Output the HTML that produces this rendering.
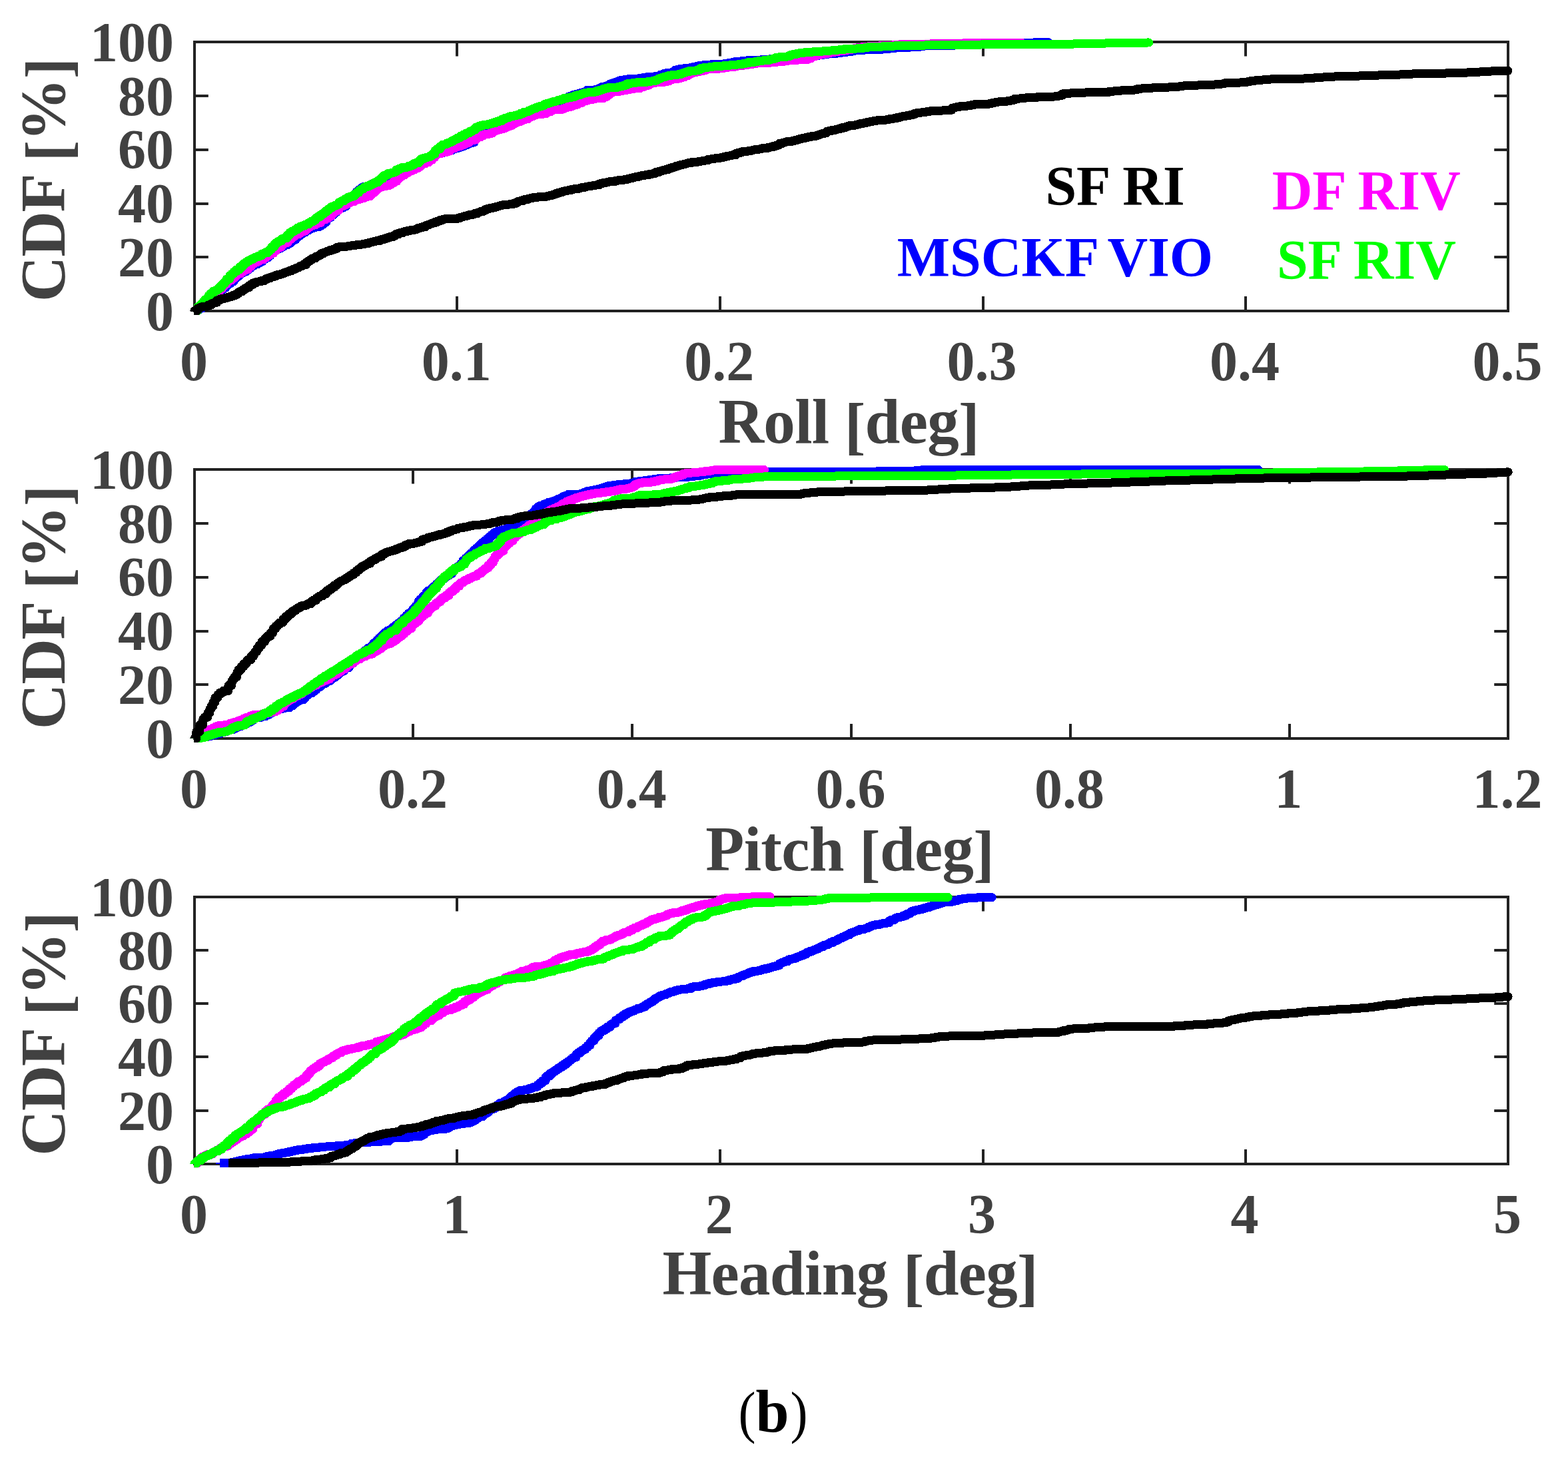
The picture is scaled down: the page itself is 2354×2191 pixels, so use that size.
<!DOCTYPE html>
<html lang="en"><head><meta charset="utf-8"><title>CDF of attitude errors (b)</title>
<style>
html,body{margin:0;padding:0;background:#fff}
body{width:2354px;height:2191px;overflow:hidden}
svg{display:block}
text{font-family:"Liberation Serif","DejaVu Serif",serif;font-weight:bold}
.t{font-size:84px;fill:#414141}
.l{font-size:95px;fill:#414141;letter-spacing:-0.7px}
.yl{letter-spacing:-1.2px}
.g{font-size:84px}
.ax{stroke:#222222;stroke-width:4;fill:none;stroke-linecap:butt}
.c{fill:none;stroke-width:13;stroke-linejoin:round;shape-rendering:crispEdges}
</style></head>
<body>
<svg width="2354" height="2191" viewBox="0 0 2354 2191">
<rect width="2354" height="2191" fill="#ffffff"/>
<g id="panel1">
<path class="ax" d="M686 467v-22.1M686 63v21.5M1081 467v-22.1M1081 63v21.5M1476 467v-22.1M1476 63v21.5M1870 467v-22.1M1870 63v21.5M292 386h20.8M2264 386h-20.8M292 306h20.8M2264 306h-20.8M292 225h20.8M2264 225h-20.8M292 144h20.8M2264 144h-20.8"/>
<rect class="ax" x="292" y="63" width="1972" height="404"/>
<g class="t" text-anchor="middle"><text x="290.9" y="571.1">0</text><text x="685.3" y="571.1">0.1</text><text x="1079.7" y="571.1">0.2</text><text x="1474.1" y="571.1">0.3</text><text x="1868.5" y="571.1">0.4</text><text x="2262.9" y="571.1">0.5</text></g>
<g class="t" text-anchor="end"><text x="261" y="495.8">0</text><text x="261" y="415">20</text><text x="261" y="334.2">40</text><text x="261" y="253.4">60</text><text x="261" y="172.6">80</text><text x="261" y="91.8">100</text></g>
<text class="l" text-anchor="middle" x="1274.2" y="664.9">Roll <tspan dy="6.5">[</tspan><tspan dy="-6.5">deg</tspan><tspan dy="6.5">]</tspan></text>
<text class="l yl" text-anchor="middle" transform="translate(97.2 270.6) rotate(-90)">CDF <tspan dy="6.5">[</tspan><tspan dy="-6.5">%</tspan><tspan dy="6.5">]</tspan></text>
<clipPath id="c1"><path d="M284.8 54H2273V472.9H291.1V467.9H284.8Z"/></clipPath>
<g clip-path="url(#c1)">
<path class="c" stroke="#0000ff" stroke-linecap="round" d="M291.9 466.9h3v-1.6h4v-2.5h5v-3.7h3v-2.7h3v-2.7h3v-2.7h4v-3.6h3v-3.3h3v-2.4h3v-2.4h4v-3.3h2v-1h3v-2.7h4v-3.6h3v-2.6h4v-3.2h5v-5.3h4v-3h4v-2.7h3v-1.8h3v-1.8h4v-2.8h4v-2.4h3v-2.2h2v-1.5h3v-2.1h3v-0.4h3v-1.9h3v-2h4v-2.7h2v-1.4h3v-2.1h4v-2.8h3v-3.7h4v-2.8h3v-2.1h3v-2.1h5v-2.9h5v-2.7h3v-0.1h3v-2.1h4v-3h3v-2.3h5v-3.5h3v-2.9h4v-2.4h3v-1.8h2v-1h3v-2.3h4v-2h3v-1.5h4v-1.7h4h2v-0.4h3v-1.2h3v-2.6h4v-3.2h4v-4.8h3v-2.5h4v-3.6h4v-3.6h4v-3.5h4v-2.7h4v-1.4h3v-2h4v-3.5h2v-2.1h3v-3h5v-5.7h5v-7.1h3v-2.8h4v-3.1h4v-2.1h5v-0.7h3v-0.5h5v-3.4h5v-1.4h4v-1.1h3v-0.9h5v-1.4h5v-1.8h4v-2.3h4v-1.8h4v-1.8h4v-1.9h2v-0.3h4v-1.8h4v-2h4v-2h3v-1.8h3v-1.5h3v-1.5h3v-1.5h3v-1.5h5v-2.6h3v-1.7h4v-2.2h3v-1.7h3v-2.8h4v-2.3h3v-1.6h4v-1.9h2h5v-1h4v-2h3v-1.3h2v-0.6h3h5v-1.5h4v-1.2h3v-0.9h4v-0.8h2v-0.9h3v-1.2h3v-1.3h3v-1.3h3v-1.2h3v-1.3h5v-5.5h4v-2.8h4v-2.8h3v-2.1h4v-0.9h2v-0.8h4v-1.6h3v-1.2h3v-1.2h2v-0.8h3v-1.7h2v-0.8h4v-2.8h4v-2.8h5v-3.4h4v-1.7h3v-1.3h4v-2.3h5v-1.4h2v-0.9h4v-1.5h5v-2.3h3v-0.5h3v-1.4h5v-2.4h3v-1h4v-1.4h3v-1h4v-1.3h3v-1.1h4v-1.3h3v-0.6h3v-1h2v-0.6h4v-1.4h3v-1h3v-1.1h2v-1.1h3v-1.2h2v-1.1h3v-1.7h4v-2.1h3v-1.7h2v-0.8h4v-1.6h2v-0.6h4v-1.1h4v-1.3h4v-0.7h3v-1.1h3v-1.1h2v-1.6h3h4h3v-0.5h3h3v-1.4h3v-1.5h3v-1.5h2v-0.5h4v-0.8h3v-0.8h3v-2.1h3v-0.9h3v-1.1h3v-1.2h3v-1.2h3v-1.1h3v-0.6h3v-0.4h3v-0.6h3v-0.5h5v-0.4h4h4v-0.2h2v-0.2h4v-0.9h2v-0.1h2v-0.2h3v-0.4h4v-0.9h3h3v-0.1h5v-0.8h4v-0.6h4v-1.7h5v-1.6h3v-0.9h3h2h5v-1.5h4v-2.9h4v-1.3h4v-0.6h3v-0.3h3v-0.5h2v-0.4h3h3v-0.4h3v-0.7h2v-0.5h2v-0.6h3v-0.5h5v-1.4h5v-0.4h2v-0.2h4v-0.3h3v-0.2h3v-0.2h4h4v-0.2h3v-0.2h2v-0.1h4v-0.3h3v-0.4h3v-0.4h3v-0.6h3v-0.6h4v-0.8h3v-0.6h5v-0.4h4v-0.4h4v-0.6h4v-0.3h3v-0.1h5v-0.1h5v-0.4h3v-0.1h2v-0.1h3v-0.2h3v-0.1h4v-0.3h5v-0.4h2v-0.3h4v-0.4h3v-0.3h3h4h3v-0.2h2v-0.2h3v-0.2h3v-0.2h5v-0.4h4v-0.4h4v-0.3h4v-0.2h2v-0.2h3v-0.2h3v-0.4h2v-0.1h3v-0.2h3v-0.2h3v-0.3h3v-0.2h3v-0.5h3v-0.3h4v-0.6h4v-0.6h2v-0.2h3v-0.4h3v-0.4h3v-0.4h3h4v-0.4h3v-0.3h3v-0.5h3v-0.2h3v-0.5h3v-0.4h4v-0.6h3v-0.3h3v-0.3h3v-0.9h3v-0.3h2v-0.2h5v-0.5h4v-0.4h2h4v-0.1h2v-0.1h5h4h3h2h5v-0.4h2v-0.2h3v-0.3h4v-0.5h3v-0.2h4v-0.7h3v-0.2h2v-0.1h4v-0.3h5h3v-0.2h5v-0.4h5v-0.3h4v-0.3h2h3v-0.1h3v-0.2h5v-0.4h3v-0.8h2v-0.2h4v-0.2h4h3h3v-0.1h5v-0.1h3v-0.1h3h4v-0.1h3h2h2v-0.1h5v-0.1h5v-0.2h3v-0.2h3v-0.1h5v-0.2h5v-0.3h3v-0.1h3v-0.2h4v-0.1h2v-0.1h5v-0.2h2v-0.1h3v-0.1h3v-0.1h4v-0.2h3v-0.1h2v-0.1h2h3v-0.2h4v-0.1h2v-0.1h4v-0.1h3v-0.1h2h5v-0.2h4v-0.2h5h2v-0.1h3h5v-0.1h4v-0.1h5v-0.1h3h2h3v-0.1h3v-0.2h3v-0.1h4v-0.2h3v-0.1h4v-0.1h4h2h4h3h2.6"/>
<path class="c" stroke="#ff00ff" stroke-linecap="round" d="M291.9 466.9h5v-4.6h3v-2h4v-2.7h4v-3.9h3v-2.9h4v-3.2h5v-4.5h3v-3.5h3v-2.6h4v-3.7h4v-3.9h3v-3h4v-4h3v-1.8h4v-3.1h4v-3.2h3v-2.2h3v-1.4h4v-2.4h3v-1.8h3v-2.1h5v-3.9h4v-3.2h2v-1.6h3v-1.6h4v-1.8h3v-1.5h2v-1h5v-2.9h4v-2.4h3v-1.9h3v-2.3h5v-4h4v-3.2h2v-1.6h5v-3.5h3v-2.1h2v-1.4h5v-3.7h3v-2.2h3v-2.2h2v-1.5h3v-2.1h2v-1h4v-2h3v-1.5h3v-1.5h4v-4h4v-2h3v-1.5h3v-1.4h5v-2.3h3v-1.2h5v-3h2v-1.6h2h3v-2.2h4v-3.2h5v-3.9h3v-2.4h3v-2.4h5v-4.8h3v-1.5h4v-2h4v-2h4v-2h4v-0.8h4v-1.6h3v-1.2h4v-1.6h3h2v-0.6h2v-0.8h2v-0.8h3v-1.2h5v-3.1h3v-2.8h4v-4.3h4v-3.1h5v-1h3v-0.8h4v-0.7h5v-2.2h4v-1.8h3v-2.7h5v-3.8h3v-2.4h3v-1.8h2v-1.6h4v-2.2h3v-1.7h3v-1.7h4v-2.2h5v-2.5h5v-2.5h4v-2.7h3v-1.5h4v-2h5v-3.4h5v-3.9h4v-3.6h3v-1.7h3v-0.9h5v-1.6h3h3v-0.7h3v-1.1h3v-3h3v-1.2h4v-1.6h4v-1.6h5v-2h5v-1h2v-1.1h3v-1.7h3v-1.6h2v-0.7h2v-0.7h2v-0.7h4v-3.6h2v-0.7h5v-2h4v-1.6h4h3v-0.9h2v-0.8h4v-1.6h2v-1.8h3v-1.2h3v-1.2h3v-0.2h3v-1.2h5v-1.9h3v-1h3v-1.1h4v-2.5h3v-1.2h3v-1.3h3v-0.9h2v-0.8h3v-1.2h3v-1.2h3v-1.2h5v-2.7h4v-1.6h4v-1.6h4v-1.2h3v-0.1h3h3v-0.4h2v-0.3h4v-1.8h3v-1.4h4v-1.8h3v-0.9h3h3h3v-0.1h4v-0.9h3v-1.2h2v-0.8h3v-1h2v-0.7h5v-1.6h3v-0.8h4v-1.3h3v-1.6h5v-1.9h3v-1.2h4v-1.5h4v-0.8h5v-0.8h2v-0.4h3v-0.5h3h4v-0.1h5v-1.7h4v-2.4h3v-1.8h3v-2.8h4v-1.1h4v-0.3h2v-0.2h4v-0.6h4v-0.9h4v-0.6h3v-0.5h3v-0.6h3v-0.7h4v-0.9h5h5v-1.4h3v-1.1h4v-1.3h4v-1h3v-2.4h4v-0.8h3v-0.3h2v-0.3h2v-0.2h2h4h3v-0.4h2v-0.6h4v-1.2h4v-1.2h2v-1h3v-0.4h2v-0.3h4v-0.6h3v-0.9h4v-1.7h5v-2h5v-1.6h3v-1.6h3v-0.9h2v-0.6h4v-1.2h3h2v-0.5h2v-0.5h3v-0.7h3v-0.8h3v-1.2h5v-0.2h3v-0.3h3h5v-0.3h3v-0.4h5v-0.7h4v-0.6h4v-0.5h4v-0.5h2v-0.3h5v-0.7h3v-0.5h3v-0.4h3v-0.3h4v-0.5h3v-0.4h3v-0.4h3v-0.5h2v-0.3h3v-0.5h4v-0.6h3v-0.1h4v-0.2h4v-0.1h2v-0.1h3v-0.2h5v-0.5h3v-0.3h2v-0.2h5v-0.4h4v-0.4h3v-0.3h5v-0.5h3v-0.6h3v-0.2h2v-0.2h5v-0.2h2v-0.1h2v-0.2h3v-0.4h3v-0.4h4h3h5v-1.8h5v-2.7h3v-0.6h4v-1.6h4v-0.7h5v-0.8h4v-0.6h4v-1.1h3v-0.4h3v-0.4h2v-0.3h3v-0.5h3v-0.5h3v-0.6h3v-0.3h4v-0.8h3v-0.6h4v-0.7h2v-0.3h5v-0.8h3v-1.2h3v-0.4h3v-0.4h3v-0.4h3v-0.4h2v-0.2h3v-0.3h3v-0.2h3v-0.2h3v-0.2h4h4v-0.1h3v-0.5h4v-0.2h2v-0.1h3v-0.2h3v-0.3h4h4v-0.2h4v-0.3h2v-0.2h3v-0.3h3v-0.6h2h4h4h2h3h4v-0.1h4h4v-0.1h3v-0.1h2h3v-0.1h3h3h3v-0.1h3h3v-0.1h4h3v-0.1h5v-0.1h3v-0.1h5v-0.1h3v-0.1h3v-0.1h4h3h4v-0.1h2v-0.1h4v-0.1h4v-0.2h4v-0.1h2h2v-0.1h4h4h4h2h5h3h3h3h4h3h3h3h4h5h3h3h5h5h3h3h3h2.6"/>
<path class="c" stroke="#00ff00" stroke-linecap="round" d="M291.9 466.9h5v-6h4v-3.4h4v-4.5h3v-3.3h5v-5.5h3v-3.3h4v-3.7h2h3v-2.2h3v-2.7h4v-3.9h3v-3h3v-3h2v-3.2h5v-5.5h3v-2.5h3v-3.2h4v-3.2h5v-4h4v-3.3h3v-2.3h3v-2.2h2v-1.4h3v-1.6h4v-1.9h3v-1.3h2v-1h4v-1.7h5v-3h4v-1.5h5v-2.5h3v-2.7h3v-3.8h4v-4.3h3v-2.1h3v-2.1h5v-3.5h3v-0.9h5v-4.7h4v-3.8h4v-2.4h4v-2h4v-3h4v-2h3v-0.5h3v-1.5h2v-1h5v-2.6h3v-1.7h4v-2.2h3v-2.8h3v-2.1h4v-2.8h3v-2h3v-2.2h3v-2.2h3v-2.3h2v-1.5h3v-2.3h3v-0.6h2v-1h3v-1.5h3v-3.1h2v-1h2v-1.2h4v-2.4h2v-1.1h4v-2.4h5v-1.3h4v-2.9h3v-2.3h4v-3.1h2v-1.6h2v-0.9h3v-2.3h2v-0.8h3v-1.2h4v-1.8h3v-0.9h2v-1.2h3v-1.8h5v-2.8h3v-2.6h4v-3.4h2v-1.7h5v-2.5h4v-0.8h2v-0.6h4v-1.3h3v-3.2h5v-1.9h4v-1.6h4v-0.3h5v-1.5h4v-1.3h4v-2.6h3v-0.9h5v-3.3h3v-2.8h4v-1.3h4v-1.2h4v-0.6h2v-1.6h3v-2.4h4v-5.4h3v-2.4h5v-4h3v-2.4h3v-0.5h3v-1.4h3v-1.3h4v-1.8h3v-1.5h2v-0.9h2v-1.3h3v-1.8h4v-2.5h5v-2.4h4v-2.1h5v-2.3h4v-1.9h2v-1h3v-3.2h4v-1.8h4v-1.1h4v-1.1h3h3v-0.7h3v-0.9h4v-1.2h5v-1.8h5v-1.4h5v-2.5h4v-1.4h3v-0.9h3v-1.2h3v-0.9h2v-0.5h4v-0.8h4v-0.8h4v-1.9h5v-2.1h4v-0.6h3v-1.3h3v-1.3h2v-1h3v-1.3h4v-1.7h3v-1h3v-1.1h5v-1.7h2v-1.1h2v-0.6h3v-0.9h3v-1h3v-0.9h4v-0.9h3v-1h2v-0.7h5v-1.5h4v-1.3h5v-0.9h5v-1h2v-0.4h5v-2h4v-1h5v-1.4h3v-0.8h2v-0.7h4v-0.4h5v-0.2h5v-0.8h4v-1.4h4v-1.4h5v-1.4h2v-0.5h3v-0.7h3v-0.8h2h5h3v-0.1h3v-0.8h3v-0.8h3v-0.8h4v-1.2h5v-2.1h3v-0.6h4v-0.5h5v-0.6h3v-0.5h2v-0.1h4v-0.1h5v-0.3h5v-0.5h3v-0.4h3v-0.4h4v-0.6h3v-1.4h3v-1.4h3v-1.4h3v-1h3v-1.1h4v-0.9h3v-0.6h4v-0.9h5v-0.3h3v-0.3h3v-0.6h4v-1.2h3v-1.2h4v-1.1h5v-1.5h3h4v-0.3h4v-1h5v-2.4h4v-0.8h4v-0.7h3v-0.1h3v-0.4h3v-0.5h3v-0.4h4v-0.1h3v-0.3h3v-0.2h2v-0.2h3v-0.3h4v-0.3h5v-0.5h4v-0.4h4v-0.2h4v-0.4h3v-0.3h4v-0.4h2v-0.8h4v-0.7h4v-1.2h3h3v-0.2h4v-1.1h5v-0.8h3v-0.4h5v-0.5h3h5v-1h3v-0.7h3v-0.8h4v-1.8h5v-0.6h3v-0.3h3h3v-0.2h4v-0.7h3v-1.7h3v-0.8h2v-0.5h5v-1.2h4v-0.5h3v-0.4h5v-0.7h5v-0.1h3v-0.2h4v-0.4h3v-0.1h3v-0.3h4v-0.3h5v-0.4h3v-0.3h4v-0.3h3v-0.2h3v-0.2h4v-0.3h4v-0.4h3v-0.2h3v-0.3h3v-0.3h3v-0.9h3v-0.2h3h2h5v-0.1h2h3v-0.2h3v-0.3h4v-0.5h5v-0.5h4v-0.7h3v-0.1h3v-0.1h2h2v-0.1h2v-0.1h3v-0.2h2v-0.1h2v-0.2h4v-0.3h3v-0.3h2v-0.1h4v-0.1h3v-0.1h3v-0.1h3v-0.1h4v-0.3h4v-0.1h4v-0.1h3v-0.1h3v-0.1h3h3h3h2h3v-0.1h3h2v-0.1h3h3h3v-0.1h2h3v-0.1h3v-0.1h4v-0.1h5h5v-0.2h4h3v-0.1h3h3h4h3h2h3v-0.1h3h3h2h3h4h3h5v-0.1h4v-0.1h4h3h3v-0.1h3h3h3v-0.1h4v-0.1h3h4h5v-0.1h5v-0.1h5v-0.1h3h4h3h5h3h3h4h4h3h4h3h4h5h3h4h3h5h3h4h5h3h3v-0.1h3h4h3h3v-0.1h3h2v-0.1h5v-0.2h3v-0.1h3v-0.1h3v-0.1h2v-0.1h5v-0.2h3h3h4v-0.1h2h3h3h3v-0.1h3h4v-0.1h4v-0.1h4v-0.1h2h5v-0.1h2v-0.1h4v-0.1h4h3h3v-0.1h4h3v-0.1h5v-0.1h3v-0.1h3h5v-0.1h4h5h4v-0.1h1.8"/>
<path class="c" stroke="#000000" stroke-linecap="round" d="M291.9 466.9h4v-3.6h3v-1.3h3v-1.2h3h3v-0.6h4v-1.9h5v-2.3h2v-0.7h3v-1h4v-3.5h4v-1.4h3v-1h4v-0.5h3v-1h3v-1.1h2v-0.8h5v-1.8h5v-2.1h3v-2.4h2v-1.1h4v-2.3h3v-1.8h2v-1.5h5v-3.2h2v-1.4h4v-2.6h5v-1.7h4v-0.4h3v-1.1h5v-1.5h3v-1.9h2v-0.6h4v-1.3h2v-0.7h3v-1h3v-1.1h3v-1h4v-0.8h2v-0.8h3v-1.2h2v-0.8h2v-0.8h4v-1.5h4v-1.5h2v-0.7h3v-1.2h3v-1.4h3v-1.5h3v-1.4h3v-1.5h5v-3.5h3v-2.1h3v-2.1h3v-1.8h5v-2.4h3v-1.5h3v-1.4h2v-1.9h4v-1.5h3v-1.1h2v-0.7h2v-0.7h3v-1.2h4v-1.5h5v-2.4h3v-0.8h3h3h5v-0.7h3v-0.5h2v-0.4h3v-0.3h4v-0.6h4v-0.6h3v-0.1h3v-0.3h2v-0.4h4v-0.9h3v-0.6h4v-1.2h2v-0.4h3v-0.8h3v-0.7h3v-0.6h5v-1.3h3v-1h4v-1h3v-0.9h3v-1h3v-1h5v-1.7h3v-2.1h5v-1.8h2v-0.3h4v-1.3h3v-0.8h4v-1.1h4v-0.7h3v-0.6h5v-0.9h3v-1.5h3v-0.8h4v-1.3h5v-1.9h2v-0.7h3v-1.1h2v-0.8h3v-1.2h4v-1.5h4v-1.5h4v-1.4h4v-1.4h4v-0.6h3h3h3h4h2v-0.3h4v-0.8h3v-1.3h4v-1h3v-0.8h4v-1.1h3v-0.8h3v-0.3h4v-1.4h5v-1.7h3v-0.9h2v-0.7h4v-1.2h3v-2.2h3v-0.7h4v-1h5v-1.1h4v-1.1h4v-1h3v-0.7h2v-0.5h4v-0.8h4h3v-0.4h5v-1h2v-0.5h4v-2.2h2v-0.5h2v-0.6h5v-1.5h3v-0.9h5v-1.5h3v-0.4h3v-0.8h2v-0.3h4v-0.5h4v-0.6h4h2h5v-0.5h3v-0.8h3v-0.9h4v-1.2h4v-1.4h3v-0.9h3v-0.8h2v-0.4h3v-1.5h4v-0.7h4v-0.6h4v-1h3v-0.6h3v-0.8h4v-0.2h4v-0.9h2v-0.5h3v-0.7h4v-0.9h3v-0.2h4v-0.8h3v-0.5h3v-0.5h3v-0.5h4v-1.8h4v-0.9h4v-0.9h4v-0.8h3v-0.6h4h4v-0.9h2v-0.4h3v-0.6h3v-0.7h3h4v-0.8h5v-1.1h4v-0.8h4v-1.3h4v-0.8h5v-1h3v-0.5h2v-0.4h4v-0.7h5v-0.9h4v-0.7h3v-0.6h3v-1.7h5v-1.4h4v-1.1h2v-0.6h3v-0.8h5v-1.5h4v-1.4h3v-0.9h4v-1.3h3v-0.9h3v-1h3v-0.7h4v-1.1h4v-0.9h3v-0.7h5v-1.1h5h4v-0.6h2v-0.4h3v-0.5h4v-0.7h3v-0.5h3v-1.2h2v-0.3h3v-0.4h2v-0.3h3v-0.5h4v-0.4h3v-0.5h3v-0.7h4v-1.1h4v-1h4v-0.3h3v-0.7h2v-0.5h5v-2.5h3v-0.9h5v-1.5h3h4v-0.6h3v-0.6h4v-0.6h3v-1h3v-0.3h4v-0.4h3v-0.5h3v-0.9h4h5v-1.3h3v-0.4h2v-0.6h4v-1.1h4v-1.1h3v-0.8h2v-2.1h5v-1.4h4v-1h3v-0.7h3h4v-0.8h3v-0.7h4v-0.9h3v-1.2h4v-0.9h5v-1.1h2v-0.4h3v-0.7h4v-0.9h3h2v-0.6h4v-1.2h4v-1.1h2v-0.6h2v-0.6h3v-0.9h4v-2.4h3v-0.7h4v-1h3v-0.4h4v-1h2v-0.5h4v-1.1h4v-1.2h5v-1.3h3v-0.9h3v-0.9h4v-0.3h5v-1h4v-0.8h3v-0.9h2v-0.3h4v-0.8h4v-1.3h5v-0.8h4v-0.6h2v-0.3h4v-0.6h2v-0.3h4h3v-0.1h4v-0.5h4v-0.9h5v-0.6h3v-0.7h4v-0.9h4v-0.9h3v-0.7h3v-0.8h2h3v-0.7h4v-0.8h4v-0.7h4v-1.9h2v-0.3h4v-0.7h2v-0.2h3v-0.4h4v-0.5h4v-0.7h4v-0.6h3v-0.3h4v-0.2h4h4v-0.2h4v-0.2h4h5v-0.6h5v-3h4v-1h3v-0.7h2v-0.4h4v-0.8h2h2h4v-0.2h2v-0.4h2v-0.4h4v-0.8h4v-0.7h4v-0.3h5v-0.1h3v-0.1h4v-0.1h3v-0.2h5v-0.9h4v-0.8h3v-0.5h3v-0.6h3v-0.5h5v-0.8h4h2h3v-0.5h4v-0.7h3v-0.6h3v-1.7h5v-0.4h3v-0.3h5v-0.5h4v-0.4h3h3h2h3v-0.3h5v-0.5h2v-0.7h3v-0.2h2h4h5v-0.1h4h3h4v-0.2h3v-0.4h3v-0.6h3v-0.6h3v-2.5h3v-0.5h2v-0.1h4v-0.2h4v-0.3h3v-0.2h4v-0.4h2h3h5h5v-0.2h3v-0.2h4v-0.2h2v-0.1h4h3h3h4h2h4h3h3v-0.9h4v-0.4h4v-0.4h3v-0.2h3v-0.3h4v-0.3h4h4v-0.1h4v-0.3h3v-0.3h5v-0.4h4v-1.1h3v-0.4h4v-0.4h4v-0.4h4v-0.2h3v-0.1h5v-0.3h4v-0.3h3v-0.2h2h4v-0.2h3v-0.1h2h2h5v-0.3h3v-0.1h3v-0.1h4v-0.3h5v-0.5h3v-0.6h4v-0.4h5v-0.5h5v-0.1h4v-0.1h3v-0.1h5v-0.2h3v-0.2h5v-0.2h4h3v-0.1h3v-0.1h3v-0.2h4v-0.1h2v-0.1h3v-0.3h3v-0.4h3v-0.3h3v-1h5v-0.3h5v-0.2h4v-0.1h4v-0.2h4h2v-0.1h3v-0.3h4v-0.4h4v-0.5h3v-0.8h4v-0.5h4v-0.5h3v-0.4h4v-0.5h3h2v-0.1h3v-0.4h4v-0.4h5v-0.2h3v-0.4h4v-0.2h2h3v-0.1h3h4h4h4h3h2h4h4v-0.1h3h3v-0.1h4v-0.2h3h2v-0.2h4v-0.3h3v-0.3h4v-0.4h2h3v-0.3h3v-0.2h5v-0.3h3v-0.1h4v-0.2h2v-0.4h4v-0.1h4v-0.2h4v-0.1h3v-0.1h3v-0.1h2v-0.1h2h3h4v-0.1h3v-0.1h3v-0.1h4h3v-0.1h3v-0.1h3v-0.4h4v-0.1h4v-0.1h4h4v-0.1h4v-0.1h4v-0.1h2v-0.1h2h3v-0.1h3v-0.1h3v-0.1h3v-0.1h4v-0.1h3v-0.1h3v-0.1h5v-0.2h3v-0.1h4v-0.6h3v-0.1h3v-0.1h3v-0.1h2h4v-0.1h3v-0.1h4v-0.1h5v-0.1h4h3v-0.1h4v-0.1h5v-0.1h3h2h5h3v-0.2h3v-0.1h2h4v-0.1h3v-0.1h5v-0.2h3v-0.1h4v-0.1h4v-0.1h5v-0.2h3v-0.1h5v-0.2h4v-0.1h5v-0.2h3v-0.1h2h2v-0.4h3v-0.2h2v-0.1h2v-0.2h4v-0.3h2v-0.1h3h4v-0.3h4v-0.1h3h3v-0.1h3h3v-0.1h4h2v-0.1h3"/>
</g>
<g class="g"><text x="1569.4" y="308.4" fill="#000000">SF RI</text><text x="1909.7" y="314.7" fill="#ff00ff" style="word-spacing:-1px">DF RIV</text><text x="1346.8" y="414.7" fill="#0000ff" style="word-spacing:-4px">MSCKF VIO</text><text x="1916.9" y="418.9" fill="#00ff00" style="word-spacing:-1px">SF RIV</text></g>
</g>
<g id="panel2">
<path class="ax" d="M620 1109v-22.1M620 705v21.5M949 1109v-22.1M949 705v21.5M1278 1109v-22.1M1278 705v21.5M1607 1109v-22.1M1607 705v21.5M1936 1109v-22.1M1936 705v21.5M292 1028h20.8M2264 1028h-20.8M292 948h20.8M2264 948h-20.8M292 867h20.8M2264 867h-20.8M292 786h20.8M2264 786h-20.8"/>
<rect class="ax" x="292" y="705" width="1972" height="404"/>
<g class="t" text-anchor="middle"><text x="290.9" y="1213.1">0</text><text x="619.6" y="1213.1">0.2</text><text x="948.2" y="1213.1">0.4</text><text x="1276.9" y="1213.1">0.6</text><text x="1605.6" y="1213.1">0.8</text><text x="1934.2" y="1213.1">1</text><text x="2262.9" y="1213.1">1.2</text></g>
<g class="t" text-anchor="end"><text x="261" y="1137.8">0</text><text x="261" y="1057">20</text><text x="261" y="976.2">40</text><text x="261" y="895.4">60</text><text x="261" y="814.6">80</text><text x="261" y="733.8">100</text></g>
<text class="l" text-anchor="middle" x="1275.8" y="1306.5">Pitch <tspan dy="6.5">[</tspan><tspan dy="-6.5">deg</tspan><tspan dy="6.5">]</tspan></text>
<text class="l yl" text-anchor="middle" transform="translate(97.2 912.6) rotate(-90)">CDF <tspan dy="6.5">[</tspan><tspan dy="-6.5">%</tspan><tspan dy="6.5">]</tspan></text>
<clipPath id="c2"><path d="M284.8 696H2273V1114.9H291.1V1108.7H284.8Z"/></clipPath>
<g clip-path="url(#c2)">
<path class="c" stroke="#0000ff" stroke-linecap="round" d="M291.9 1109h4v-1.4h2v-0.5h3v-0.5h3h4h3v-0.5h3v-0.7h3v-1.3h3v-0.8h5v-1.3h3v-0.8h4v-1.2h4v-1.2h4v-1.4h3v-0.9h3v-0.9h4v-1.4h4v-1.7h3v-1h2v-0.9h3v-1.2h3v-1.2h3v-1.5h3v-1.4h3v-1.6h3v-1.6h3v-3.4h4v-1.2h3h5v-1h2v-0.7h5v-1.7h4v-2.7h4v-1.7h3v-1.3h4v-1.8h3v-1.4h2v-0.6h4v-1h4v-1h3h5v-3h5v-3h3v-1.9h3v-2.1h3v-0.5h2v-1.4h5v-3.4h3v-3.7h4v-2.5h3v-0.5h3v-2.2h3v-2.4h3v-2.4h2v-1.6h3v-2.4h3v-1.8h2v-1.3h4v-2.4h3v-1.7h4v-2.8h3v-2.1h4v-3h4v-2.8h3v-2.2h3v-2.1h4v-2.9h2v-1.7h5v-4.3h3v-2.5h3v-2.6h3v-2.6h4v-4.4h3v-2.6h5v-4.3h3v-2.6h4v-3.4h3v-1.3h4v-3.7h2v-2.9h5v-4.6h3v-2.8h4v-3.7h3v-2.8h2v-1.8h3v-2.4h3v-1.2h4v-3h3v-2.3h2v-1.5h3v-2.2h3v-2.2h3v-2.3h4v-4.7h4v-4.1h3v-3h3v-1.5h3v-3.4h2v-2.4h3v-3.6h4v-6.9h3v-3.4h4v-4.4h5v-5.5h3v-3.1h4v-2.5h4v-3.6h4v-3.6h4v-3.6h3v-2.7h2v-1.4h3v-2.7h3v-2.3h4v-3h5v-3.7h2v-1.7h2v-1.8h2v-1.8h2v-1.8h5v-4.6h3v-4.2h4v-3.6h3v-2.7h2v-1.8h3v-2.9h4v-4.1h2v-1.5h2v-2h3v-2.9h3v-2.9h3v-2.5h3v-2.5h4v-3.4h4v-3.4h3v-2.5h4v-3.4h5v-2.2h3v-0.3h2v-0.8h3v-1.2h4v-0.8h3v-1.4h3v-0.8h3v-0.8h4v-2.6h3v-2h4v-2.6h3v-1.3h4v-3.3h3v-2.4h3v-1.6h5v-4h4v-3.2h3v-4.4h4v-3.2h3v-1.6h5v-1.7h3v-1.3h4v-1.8h5v-0.9h4v-1.6h3v-1.2h3v-1.2h4v-1.6h3v-2.3h4v-1.6h4v-1.7h3v-0.3h5h3h2h4h3v-1.2h3v-1.2h5v-1.9h3v-0.5h4v-0.8h5v-1.2h5v-0.9h4v-1.3h4v-1.2h3v-0.9h4v-1.2h4v-0.6h4v-0.7h4v-0.4h5v-0.4h5v-0.6h4v-0.5h2v-0.2h5v-0.5h4v-0.6h3v-1.5h3v-0.5h3v-0.5h3v-0.3h3v-0.4h5v-0.7h3v-0.4h3v-0.4h3v-0.5h4v-0.5h4v-0.6h3v-0.4h3h3h2v-0.2h4v-0.2h4v-0.3h3v-0.3h3v-0.2h4v-0.3h2v-0.1h3h4v-0.3h3v-0.2h3v-0.3h4v-0.3h3v-0.3h3v-0.3h2v-0.2h4v-0.3h3v-1.2h5v-0.7h3v-0.4h3v-0.4h4v-0.8h4h4v-0.3h4v-1.3h3v-1.2h3h3h3h5h3h4h4h2h3h2h5h5h3h3h3h4h4h4h3h4h5h4h4h3h3h3h3h2h2h3h4h3h4h3h4h3h4h3h3h5h2h3h2h4h4h3h5h4h3h4h3h3h3h4h4h3h2h3h3h4h4h4h4h3h4h4h2h2h5v-0.5h4v-0.2h3h3h4h2h2h4h3h3h3h4h4h4h4h2h4v-0.3h3v-0.4h5v-0.4h3v-0.4h2v-0.2h3v-0.3h3h3v-0.1h3v-0.1h3h3h4h3h3h3h3h2h4h3h2h4h4h3h5h4h4h3h5h3h5h3h3h5h3h3h3h3h5h3h3h3h3h3h5h2h3h3h5h4h4h3h4h3h3h4h4h3h3h4h2h2h3h5h3h4h4h3h3h3h5h4h4h3h4h4h3h4h3h2h2h3h3h4h2h3h3h3h3h4h3h3h3h3h4h2h3h3h5h3h4h3h5h3h3h5h4h3h3h2h3h3h3h4h3h4h3h2h4h3h2h4h4h3h3h4h5h4h4h3h3h4h2h3h2h3h5h4h5h5h3h3h5h3h3h3h3h5h4h2h2h4h3h3h2h4h1.2"/>
<path class="c" stroke="#ff00ff" stroke-linecap="round" d="M291.9 1109h3v-2h5v-2.9h4v-2.4h4v-2.1h4v-3h4v-1.7h4v-2h4v-2h5v-1.5h2v-0.2h2v-0.2h4v-0.3h2v-0.1h3v-0.2h3v-2h4v-1.1h3v-0.8h5v-1.9h2v-0.5h3v-1.3h4v-1.9h4v-1.6h5v-1.8h2v-0.8h2v-0.8h5v-0.3h5v-0.1h4v-1.1h3v-0.7h5v-1.1h4v-1.1h3h2v-0.8h4v-2h4v-2.5h3v-3.2h5v-4.7h3v-2.8h4v-2.4h4v-2.3h4v-2.2h2v-0.9h2v-1.1h3v-1.6h4v-2.2h3v-2.5h2v-1.3h4v-2.6h3v-1.9h4v-2.4h2v-0.8h5v-2.9h4v-1.6h4v-1.3h3v-1.5h4v-2h5v-3h3v-2.1h2v-1.4h2v-0.3h3v-2.1h3v-2.1h3v-2.1h3v-2.1h4v-2.7h3v-3.5h3v-1.6h5v-2.7h3v-2h3v-1.6h2v-1.1h4v-2.2h3v-1.6h5v-2.7h3h3v-0.8h4v-2.2h3v-1.9h4v-2.1h3v-1.6h3v-2.6h3v-1.6h2v-1.1h2v-1.1h3v-1.6h5v-2.2h3v-1.6h3v-2.1h3v-2.5h3v-2.6h4v-3.4h4v-3.1h3v-2.2h3v-3.2h5v-4.1h2v-2h2v-1.6h3v-3h4v-4h3v-2.9h3v-2.7h3v-2.9h5v-4.5h3v-3.3h3v-2.4h5v-4h3v-2.2h4v-3.6h3v-2.8h5v-3.1h5v-4.3h3v-2.5h4v-3.3h4v-4.1h5v-3.9h2v-1.6h4v-2.3h3v-1.6h4v-2.2h4v-1.2h2v-1.1h2v-1.1h5v-2.8h3v-1.9h4v-2.8h3v-2.5h3v-2.1h4v-4.3h4v-4.5h4v-4.6h2v-3.9h2v-2.1h3v-3.2h3v-3.1h5v-5.4h2v-2.4h3v-3.6h4v-3.6h5v-5.2h4v-3.5h4v-3.1h4v-3h3v-2.1h3v-2.2h4v-2.8h2v-1.9h5v-3.6h5v-3.6h5v-4h2v-1.4h3v-2.1h4v-2.8h4v-3h3v-1.9h2v-1h3v-0.9h3v-1.5h4v-2.1h5v-2.5h3v-2.3h5v-2.5h2v-0.9h4v-1.7h5v-2.1h4v-1.4h4v-1.3h3v-0.8h4v-1h4v-0.8h3v-0.8h4v-0.8h5v-0.9h3v-0.6h4v-0.1h4v-0.6h3v-0.5h4v-0.6h3v-0.3h4v-0.6h5v-0.8h4v-1.1h3v-0.5h3v-0.8h4h4v-0.7h3v-0.8h3v-1h4v-1.5h3v-2.8h3v-1.1h2v-0.7h5v-1.1h3h2h3v-0.1h3v-0.3h3v-0.6h3v-0.5h4v-0.8h4v-1h2v-0.6h5v-0.8h3v-0.4h4v-0.4h4v-0.3h4v-1.4h3v-1.2h3v-1.1h3v-1.1h4v-0.9h3v-2.3h2v-0.1h3v-0.4h3v-0.4h3h2v-0.2h3v-0.4h4v-0.5h4v-0.1h3v-0.3h4v-0.8h4v-0.5h2v-0.2h5v-1h4v-0.3h4h3v-0.2h3h4h4h3h4h3h3h3h5h4h2h3h3h4h4h4h4h2h3h3h0.6"/>
<path class="c" stroke="#00ff00" stroke-linecap="round" d="M291.9 1109h3v-0.1h4v-0.6h2v-0.3h3v-0.6h3v-0.5h3v-2.1h5v-1.5h5v-1.4h4v-1.1h4v-1.1h2h2v-0.2h2v-0.5h4v-0.9h4v-1.1h3v-1.2h3v-2.8h3v-1.2h5v-2h4h4v-1h4v-1.9h2v-3.1h3v-1.6h5v-2.6h4v-1.2h3v-1.3h4v-1.8h5v-2.6h3v-1.9h2v-0.3h5v-3.2h5v-3.5h5v-3.8h4v-2.6h3v-1.5h4v-2.1h3v-1.5h3v-2.2h2v-1h3v-1.5h4v-2h3v-1.5h2v-1h4v-2h2v-0.5h3v-1.5h2v-1.4h3v-2.2h4v-3h3v-2.3h4v-3h4v-2.8h2v-1.4h5v-3.5h2v-1.4h4v-2.8h4v-1.8h3v-2h4v-2.6h3v-1.8h3v-1.8h3v-1.9h4v-2.9h3v-1.9h3v-2h4v-2.3h4v-2.6h2v-1.2h3v-1.7h4v-3.5h2v-1.2h2v-1.2h4v-2.3h2v-0.4h4v-2.4h2v-1.1h3v-0.7h4v-2.7h2v-1.4h3v-2.1h3v-2.7h3v-2.7h2v-2.2h4v-4.4h3v-3.1h3v-2.7h5v-2.7h2v-1.1h3v-1.6h5v-4h3v-4.5h3v-2.7h5v-4.4h3v-1.7h3v-2.5h3v-2.6h4v-3.9h4v-4.5h4v-4.2h3v-3.3h3v-3.9h3v-2.8h3v-3.9h3v-3.9h3v-3h3v-3h3v-4.4h5v-5.2h3v-3.3h3v-3.5h2v-2.2h3v-3.3h3v-2.2h4v-3.6h3v-2.6h5v-4h3v-0.5h3v-2.1h5v-3.6h5v-3.7h2v-3.8h3v-2.3h4v-2.6h2v-1.1h4v-2.4h3v-1h2v-1.2h3v-1.7h3v-1.7h4v-2.3h3h4v-1.2h3v-1h4v-1.4h4v-3.4h3v-2.7h3v-4.6h3v-2.7h4v-1.7h3v-1.3h3v-1.3h4v-1.5h3h4v-0.4h3v-0.8h3v-0.8h5v-1.4h3v-1.1h3v-0.8h5v-1.9h4v-1.6h4v-1.7h3v-1.1h3v-1.3h5v-3.6h4v-1.7h2v-0.9h5v-1.8h4v-0.1h4v-1.4h3v-1.1h5v-1.1h4v-2.3h5v-1.2h3v-1.1h3v-1.2h3v-1.2h3v-0.5h3v-1.2h5v-1.2h4v-0.7h3v-1.1h5v-1.3h3v-1.1h4v-1.4h3h5v-1.3h4v-1.2h3v-0.7h2v-0.7h2v-0.6h3v-0.9h3v-0.9h4v-2.8h4v-1.3h4v-1.2h2v-0.1h5v-0.1h4h4v-0.3h3v-0.7h3v-0.8h2v-0.5h4v-1h3v-1.6h2v-0.1h4h5v-0.1h5v-0.3h3v-0.3h2v-0.2h2h5h5v-0.5h3v-1.3h3v-0.7h3v-0.6h5v-1h3v-0.6h4v-0.8h5v-1.1h3v-0.8h3v-1.1h2v-0.6h4v-1.4h5v-1.7h2h3v-0.3h4v-0.6h3v-0.4h3v-0.5h3v-0.5h4v-0.8h3v-0.9h5v-1.1h5v-1.7h4v-1.3h2h4v-0.1h4v-0.8h4v-0.5h3v-0.2h5v-1h4v-0.3h2h3v-0.2h2v-0.2h2v-0.1h3v-0.2h4v-0.3h3v-0.2h4v-0.3h3v-0.4h4v-0.6h2v-0.3h3v-0.4h3v-0.3h2v-0.1h3v-0.1h4v-0.2h5v-0.2h5v-0.1h3h3h3h2h4h4v-0.1h2v-0.1h3h3h3h2h3h3h4h2h3h5h5h3h5h3h5h4h3h3h4h5v-0.1h2v-0.1h4v-0.2h4v-0.3h2v-0.1h3v-0.1h4h2v-0.1h2h4h3h2v-0.1h4h4h2h3h2h3h3h3h2h3h3h4h3h4h3h2h4h4h4h3h5h3h2h4h4h5h4h3h3h4h3h3h3h4h3h3h3h4v-0.1h4h3h3h4h4v-0.1h4h2h5v-0.1h3h3h4v-0.1h3h4h2h3h3h5v-0.1h3h3v-0.1h5h3h4h2h2h3v-0.1h4h4v-0.1h2h2v-0.1h2v-0.1h2v-0.1h4h3v-0.1h5v-0.1h4v-0.1h3h2h3h3h3v-0.1h4v-0.3h4h2v-0.1h5h5h4h3h3v-0.1h3h4h3h3h3h4h4h2h3v-0.1h2h3h5h5v-0.1h4h4h2h3v-0.1h3h4h4h3v-0.1h4h3h3h5v-0.1h5h3h4h3v-0.1h5h4h4h3h3h3h4h5v-0.1h3h3h2h5h3h3h5h3h5h2h3h4h3h5v-0.1h3h3h3h3h4h2h4h3v-0.1h3h4h4h3h4v-0.1h4h3h4v-0.1h5h2h2h4h3h5v-0.1h5h5v-0.1h3h4v-0.1h4h4v-0.1h4h5v-0.1h5h4h3h4v-0.1h3h4v-0.2h3h4v-0.1h3h4h2h2h4v-0.1h4h2v-0.1h4v-0.1h4h3v-0.1h5h5v-0.1h4v-0.1h2h5v-0.1h4h5v-0.1h3h3v-0.1h2h3h4v-0.1h3v-0.1h4h4v-0.1h3v-0.1h2h4v-0.2h3h3h3v-0.1h3h4h3v-0.1h3h2h5v-0.1h4v-0.1h4h2v-0.1h4h3h4v-0.1h3h4v-0.1h2h3h2v-0.1h4h4v-0.1h2h5v-0.1h4v-0.1h5v-0.1h4v-0.1h4v-0.1h5v-0.1h4v-0.1h3v-0.1h3h4v-0.1h5v-0.1h3v-0.1h4v-0.1h3h4v-0.1h2v-0.1h2h4v-0.1h3v-0.1h3v-0.1h2v-0.1h4v-0.1h4v-0.1h2v-0.1h3h3v-0.1h2v-0.1h2h3h3h3h5h0.7"/>
<path class="c" stroke="#000000" stroke-linecap="round" d="M291.9 1109h3v-10.2h5v-10.4h5v-9.1h2v-2.1h5v-6.5h3v-6h2v-4.1h3v-6h3v-6.7h4v-4.8h3v-2.9h5v-2.8h3h5v-8h5v-7.1h2v-2.8h2v-3.2h4v-6.4h2v-4.2h4v-4.6h4v-4.5h4v-3.6h2v-2.3h5v-5.3h4v-4h2v-3h3v-4.8h3v-4.6h4v-5.6h5v-4.5h3v-3.4h5v-5.1h4v-6.3h4v-4h3v-2.6h3v-2.6h5v-5h4v-4h4v-3.4h4v-3.1h3v-2.3h4v-2.4h2v-1.3h3v-1.8h3v-1.8h5v-0.5h3v-1.5h2v-1.2h5v-3.3h3v-1.9h5v-3.4h2v-1.1h3v-2h5v-3.3h5v-4.3h4v-2.6h4v-2.7h4v-3.2h4v-2.6h2v-1.4h2v-1.3h2v-1.3h3v-1.2h3v-2h3v-1.9h3v-2h3v-2h4v-2.9h4v-3.1h3v-2.4h3v-2.4h3v-2.1h4v-2.2h3v-1.7h5v-3.5h3v-1.7h4v-2.3h3v-1.7h2v-1.1h5v-3.1h2v-1.1h3v-1.6h2v-0.9h3v-1.2h4v-0.8h3v-1.2h5v-1.9h4v-1.5h4v-1.5h5v-2.5h3v-1.1h3v-1.2h4h3v-0.5h3v-0.8h3v-0.9h3v-0.9h4v-3.2h3v-1h5v-1.6h3v-0.9h3v-0.8h3v-0.8h4v-1.2h5v-1.8h3h3v-1h4v-1.6h4v-1.7h4v-1.3h2v-0.7h2v-0.4h3v-0.7h2v-1.3h3v-0.5h3v-0.6h4v-0.7h4v-0.7h3v-0.9h2v-0.4h4v-0.9h3v-0.6h5h4v-0.2h3v-0.4h3v-0.3h3v-0.4h4v-0.6h3v-1.2h2v-0.3h3v-0.6h5v-1.3h3v-0.8h4v-0.9h4v-0.4h4v-0.5h3h2h4v-1.4h5v-1.8h3v-0.8h3v-0.8h4v-0.5h2v-0.2h5v-0.1h3v-0.3h3v-0.3h3v-0.2h2v-0.9h3v-0.4h5v-0.9h4v-1.1h4v-0.7h3v-0.5h5v-0.8h4v-0.3h3v-0.5h4v-0.8h4v-0.9h3v-0.7h4v-0.9h3v-0.5h4v-0.2h2h3v-0.1h4v-0.3h2v-0.1h4v-0.5h4h4v-0.4h3v-0.4h4v-0.3h4v-0.3h5v-0.3h3v-0.5h2v-0.2h3v-0.3h3v-0.1h2v-0.2h4v-0.3h4v-0.6h4v-0.6h4v-0.5h2v-0.4h3v-0.2h3v-0.2h4v-0.2h4v-0.2h4h4v-0.3h4v-0.2h4v-0.2h3v-0.2h5v-0.3h3h3v-0.2h3v-0.2h4v-0.1h4v-0.1h3v-0.2h3v-0.1h3v-0.4h2v-0.4h3v-0.6h3h3v-0.5h3v-0.4h3v-0.5h2h3h2h3v-0.1h4h4h3v-0.1h3v-0.2h5v-0.2h3v-0.4h3v-0.2h2v-0.1h4v-0.4h3v-0.7h4v-0.9h2v-0.4h5v-1h4v-0.8h2h3h5v-0.6h4v-0.4h4v-0.4h4v-0.1h3v-0.1h4v-0.3h3v-0.9h5v-0.4h4v-0.2h4h4h3h2h4v-0.1h3h4h4h3v-0.1h3h5h3h5h2h3h3h3h2h3h5v-0.1h2v-0.1h4h4v-0.1h3h3h3h5h3v-0.9h3v-0.6h2v-0.2h4v-0.3h4v-0.4h2v-0.1h4v-0.3h4v-0.4h3h2h4v-0.2h4v-0.1h3v-0.1h5v-0.1h3v-0.1h5h5v-0.1h5v-0.2h2v-0.1h4h4v-0.1h3v-0.1h3h4v-0.1h3v-0.1h3h4v-0.1h5h3h2v-0.1h2h4h4h4v-0.1h4v-0.1h3v-0.1h3v-0.1h3v-0.1h4v-0.1h3h3v-0.1h4v-0.1h3h3h5v-0.1h3h3h5h2v-0.1h3h3h3v-0.1h2h4v-0.1h3v-0.1h4v-0.2h3v-0.3h4v-0.2h3v-0.2h3h3v-0.2h2v-0.1h3v-0.1h3v-0.1h3v-0.2h5v-0.5h3h3v-0.1h4v-0.1h3v-0.1h4v-0.2h4v-0.1h4v-0.1h3v-0.2h2h2v-0.1h2h5v-0.2h3v-0.1h3v-0.1h3h4h5v-0.1h4v-0.2h3v-0.1h5v-0.3h4v-0.2h3v-0.1h4v-0.2h3v-0.1h3v-0.1h4v-0.1h3v-0.2h3v-0.3h3v-0.1h4v-0.3h4v-0.3h3v-0.2h3v-0.4h5v-0.2h2v-0.2h4v-0.2h3v-0.1h3v-0.1h4h2h4v-0.2h4h2h3v-0.1h4v-0.2h3v-0.5h4v-0.1h3v-0.1h4v-0.1h3v-0.1h3v-0.1h3v-0.1h5v-0.2h3v-0.1h4v-0.1h3v-0.1h2h4v-0.1h4v-0.1h3h2v-0.1h2v-0.1h4v-0.1h3v-0.1h3h5v-0.2h5v-0.1h3v-0.1h3v-0.1h3v-0.1h3v-0.1h4v-0.1h2v-0.1h3v-0.1h2v-0.1h3v-0.1h2v-0.1h2v-0.1h4v-0.1h3v-0.1h3v-0.1h4v-0.2h3v-0.1h5v-0.2h2h3h3v-0.1h3v-0.1h5v-0.2h3v-0.1h2v-0.2h3v-0.1h4v-0.2h4v-0.1h5v-0.2h3v-0.1h5v-0.2h3v-0.1h5h4h5v-0.2h3v-0.1h4v-0.2h3v-0.1h3v-0.1h4v-0.1h3v-0.1h3v-0.1h2h3v-0.1h2v-0.1h4v-0.1h5v-0.2h3v-0.1h5v-0.1h2v-0.1h5v-0.1h2v-0.1h5v-0.2h3v-0.1h4v-0.1h2h5v-0.2h4h4v-0.1h5v-0.3h3v-0.1h2h4v-0.2h5v-0.1h5h2h3v-0.1h4v-0.1h4h3v-0.1h3v-0.1h5v-0.1h3v-0.2h4v-0.1h2h3v-0.1h2h5v-0.1h3h3v-0.2h2h4h4h2h3v-0.1h2h3h4h3h4h5v-0.1h4h2h3v-0.1h2h4h5v-0.1h2h3h4h2v-0.1h4h3h3h5h5h3v-0.2h4v-0.1h4v-0.1h2h4v-0.1h3v-0.1h4v-0.1h4h4v-0.1h5v-0.1h2h3h4v-0.1h2h4h3v-0.1h5v-0.1h4h4v-0.1h3h3h2v-0.1h3h3v-0.1h3h5v-0.1h5v-0.1h3h5v-0.1h4h3v-0.1h3h5v-0.2h3v-0.1h2v-0.1h4v-0.3h3v-0.1h5v-0.2h3v-0.2h4h3v-0.1h4v-0.2h4v-0.2h3v-0.1h2h3v-0.1h2v-0.1h2v-0.1h4v-0.1h2v-0.2h4v-0.1h4v-0.2h5v-0.1h2h5v-0.2h2v-0.1h5v-0.1h3v-0.1h3h3h4v-0.2h3v-0.2h3v-0.1h5v-0.2h2v-0.1h2v-0.1h3v-0.2h3v-0.2h3v-0.2h3v-0.1h3v-0.2h4v-0.4h5v-0.3h2v-0.1h2.3"/>
</g>
</g>
<g id="panel3">
<path class="ax" d="M686 1748v-22.1M686 1347v21.5M1081 1748v-22.1M1081 1347v21.5M1476 1748v-22.1M1476 1347v21.5M1870 1748v-22.1M1870 1347v21.5M292 1668h20.8M2264 1668h-20.8M292 1587h20.8M2264 1587h-20.8M292 1507h20.8M2264 1507h-20.8M292 1427h20.8M2264 1427h-20.8"/>
<rect class="ax" x="292" y="1347" width="1972" height="401"/>
<g class="t" text-anchor="middle"><text x="290.9" y="1851.6">0</text><text x="685.3" y="1851.6">1</text><text x="1079.7" y="1851.6">2</text><text x="1474.1" y="1851.6">3</text><text x="1868.5" y="1851.6">4</text><text x="2262.9" y="1851.6">5</text></g>
<g class="t" text-anchor="end"><text x="261" y="1776.8">0</text><text x="261" y="1696.6">20</text><text x="261" y="1616.4">40</text><text x="261" y="1536.2">60</text><text x="261" y="1456">80</text><text x="261" y="1375.8">100</text></g>
<text class="l" text-anchor="middle" x="1276.2" y="1943.9">Heading <tspan dy="6.5">[</tspan><tspan dy="-6.5">deg</tspan><tspan dy="6.5">]</tspan></text>
<text class="l yl" text-anchor="middle" transform="translate(97.2 1553.1) rotate(-90)">CDF <tspan dy="6.5">[</tspan><tspan dy="-6.5">%</tspan><tspan dy="6.5">]</tspan></text>
<clipPath id="c3"><path d="M284.8 1338H2273V1753.2H291.1V1747.9H284.8Z"/></clipPath>
<g clip-path="url(#c3)">
<path class="c" stroke="#0000ff" stroke-linecap="butt" d="M330.1 1746.6h8v-0.1h4v-0.1h3v-0.5h3v-0.3h2v-0.3h3v-1.2h4v-0.9h2v-0.4h3v-0.7h4v-0.7h4v-0.8h3v-0.6h5v-0.9h3v-0.5h2h3h2h3h5v-0.8h4v-1.3h5v-0.8h3v-0.6h5v-1h3v-1.1h3v-0.6h3v-0.6h4v-0.7h3v-0.6h4v-0.8h4v-0.9h4v-1h3v-0.7h4v-0.8h3h4v-0.8h5v-0.7h3v-0.3h5v-0.7h3v-0.4h5v-0.1h3v-0.5h4v-0.4h3v-0.3h3v-0.2h4v-0.3h3v-0.3h4v-0.2h5v-0.4h3v-0.1h4v-0.4h4v-0.3h2v-0.2h3v-0.5h4v-0.7h2v-1.1h3v-0.5h3v-0.3h4v-0.4h3v-0.3h5v-0.3h2v-0.1h4v-0.3h5v-0.2h5v-0.3h4v-0.1h5v-0.4h3v-0.3h3v-0.2h3v-0.2h5v-3h3v-1h2v-0.6h2v-0.4h3h4h3h3h4v-0.2h5v-0.7h4v-0.6h4v-0.2h4v-0.4h2v-0.1h2v-0.2h4v-2.2h4v-2.2h2v-2.1h3v-1.5h4v-0.8h4v-0.6h3v-0.5h4v-0.8h3h4h5v-0.9h3v-1.1h3v-2.1h3v-1.1h4v-1h4v-0.7h3v-0.6h5v-0.6h3v-0.5h2v-0.3h4v-0.5h4v-1.8h3v-1.8h4v-2.5h3v-1.8h3v-1.5h5v-2.9h3v-1.8h3v-1.8h3v-3.2h3v-1.7h5v-2.7h4v-3h4v-3h3v-0.3h3v-2h4v-2.4h4v-2.4h4v-3.9h4v-2.9h2v-1.5h3v-2.3h4v-1.5h3v-0.1h3v-0.5h5v-1.1h3v-1.2h4v-1.6h3v-0.7h5v-3.3h3v-2.5h4v-3.2h5v-5.8h2v-1.6h5v-4.1h4v-2.2h3v-2h3v-2h3v-2.5h4v-2.6h4v-2.6h4v-2.6h3v-2h2v-1.9h2v-1.4h2v-1.9h5v-4.8h3v-2.4h4v-2.7h3v-2.1h4v-2.8h3v-3.3h4v-4.5h2v-2.3h4v-4.4h3v-3.4h4v-4.4h3v-3h5v-2.5h4v-3h5v-3.5h3v-1.9h5v-4.8h2v-1.3h4v-2.7h4v-2.7h4v-2.7h4v-2.2h3v-1.1h3v-1.2h4v-1.5h2v-0.9h3v-1.4h5v-1.2h3v-1.5h4v-2.6h3v-2h3v-1.8h3v-1.8h3v-1.7h2v-2.2h3v-1.7h3v-1.6h2v-0.9h3v-1.4h3v-0.4h3v-1.4h3v-1.1h3v-1.5h2v-0.6h5v-1.5h3v-0.7h3v-0.5h2v-0.4h3h3v-0.1h3v-0.6h2v-0.5h2v-0.4h4v-2.3h3v-0.3h3v-0.2h3v-0.2h2v-0.2h2v-0.4h3v-0.9h4v-1.4h3v-0.9h4v-1.2h4v-0.7h5v-0.6h3v-0.6h5v-0.4h2v-0.2h4v-0.5h3v-0.7h4v-1.2h3v-0.9h5v-1.2h5v-2.2h3v-1.3h4v-1.4h3v-1.2h3v-1.3h3v-1.2h3v-1.2h4v-1.2h4v-0.3h4v-1h5v-1.4h5v-1.3h5v-1.2h4v-1h3v-0.8h3v-0.7h3v-0.8h3v-2.8h3v-1.3h2v-0.8h3v-1.3h5v-2.2h3v-1.3h4v-0.4h3v-1.2h3v-1.3h3v-1.2h4v-1.7h4v-1.7h4v-2.4h2v-0.7h3v-1.2h4v-1.5h2v-0.8h4v-1.5h3v-1.4h3v-1.4h4v-2h3v-0.8h4v-2h3v-1.5h5v-2.4h5v-1.8h3v-1.5h2v-0.9h3v-1.4h3v-1.6h3v-1.3h2v-0.8h4v-2.4h3v-1.2h3v-1.1h3v-1.2h4v-1.6h2v-0.8h5v-0.3h3v-1.2h4v-1.5h3v-1.5h2v-0.7h3v-0.9h3v-0.6h3v-0.5h5v-1h3v-0.6h5v-0.8h5v-3.2h3v-1.3h5v-2.1h2v-0.9h2v-0.8h4v-0.6h4v-1.7h5v-2.1h2v-0.9h4v-1.7h2v-2h4v-1.3h4v-0.9h4v-0.8h4v-0.9h3v-1.1h3v-0.7h5v-1.4h2v-0.6h2v-0.6h3v-1.6h5v-1.4h5v-1.4h4v-1.1h2h4h3v-0.2h3v-0.8h4v-1h3v-0.6h4v-1.6h4v-0.6h5v-0.7h4v-0.4h3v-0.3h3v-0.1h3v-0.2h2v-0.1h4v-0.3h4v-0.1h4h2h3h3h3h2h1.1"/>
<circle cx="1489.2" cy="1347.7" r="6.5" fill="#0000ff" shape-rendering="crispEdges"/>
<path class="c" stroke="#ff00ff" stroke-linecap="round" d="M291.9 1747.5h4v-3.9h3v-2.4h3v-2.5h2v-1.8h4v-1.8h3v-1.4h3v-0.4h5v-2.6h3v-1.7h3v-1.7h5v-2.7h2v-1.4h3v-1.2h2v-0.7h5v-2.5h3v-2h3v-2h3v-2.2h3v-2h3v-1.4h2v-1.9h3v-1.4h4v-1.9h2v-1.1h3v-3h4v-4h5v-5.3h2v-2.8h5v-6.8h3v-4.1h3v-3.5h5v-4.4h3v-2.5h2h3v-3.2h3v-4h5v-6.8h4v-4.7h4v-2.6h4v-3.4h4v-2.8h4v-4h4v-2.9h3v-3h4v-2.4h3v-2.8h5v-2.4h3v-2.4h4v-4.2h3v-3.5h3v-3.5h3v-2.6h3v-2h4v-2.6h4v-3.5h2v-1.1h3v-1.5h3v-1.6h4v-2.1h3v-1.8h4v-2.6h2v-1.3h4v-2.4h2v-1.1h2v-1.1h4v-2.1h3v-1.2h5v-1.4h4v-0.6h4v-0.8h3v-0.5h5v-1.6h4v-1.3h3v-0.8h4v-0.2h3v-0.8h3v-0.8h4v-0.9h4v-0.9h3v-2.5h4v-1h4v-1h2v-0.5h4v-1.1h2v-0.7h3v-0.9h3v-1h3v-1.1h2v-0.6h4v-0.8h5v-1.2h4v-1.4h3v-1.8h3v-1.8h4v-1.9h3v-1.2h5v-1h4v-1.5h3v-1.1h3v-2.6h3v-2.7h4v-3.4h3v-1.1h5v-3h3v-2h2v-1.2h2v-1.3h4v-2.6h3v-2h4v-2.4h4v-1.6h3v-0.2h5v-2h5v-2h5v-2.2h4v-2h5v-4.1h4v-2.7h5v-3.3h5v-3.5h4v-2.6h2v-0.9h4v-1.8h3v-1.7h3v-1.4h5v-3h3v-1.8h3v-1.8h3v-1.2h2v-1.2h3v-1.8h3v-1.8h3v-1.7h4v-1.7h2v-1.8h4v-1.7h4v-1.4h2v-0.6h3v-0.9h5v-1.8h4v-1.9h3v-1.7h3h5v-2.3h5v-1.5h4v-2.5h3v-0.6h5v-0.4h5v-0.3h2v-0.3h3v-1.1h4v-1.4h5v-2.2h3v-1.6h3v-2.4h4v-2.1h4v-1.9h4v-1.2h4v-1.1h2v-0.7h4v-1.3h2h2h5v-1.5h3v-0.7h4v-0.8h3v-0.6h2v-0.2h3v-0.2h2v-1h3v-1.3h4v-1.9h3v-2h3v-2.2h3v-2.2h4v-2.8h3v-2.7h5v-1.9h3h3v-1h3v-1.4h3v-1.4h2v-1.4h3v-1.5h2v-0.6h4v-1.2h3v-2h2v-0.6h2v-0.7h5v-2.5h5v-2.5h3v-1.4h5v-1.9h2v-0.9h2v-0.9h3v-1.3h3v-1.6h4v-2.2h3v-1.6h3v-1.5h3v-1h4v-1.4h5v-1.8h3v-0.1h3v-1h3v-0.9h3v-2h3v-1h3v-0.9h4v-1.2h3h3v-0.2h3v-0.7h3v-1.7h5v-1.2h4v-1.5h3v-1h5v-1.6h4v-1.3h2v-0.6h4v-0.9h4v-1.2h5v-1.2h2h2h3v-0.6h3v-0.7h2v-0.5h3v-0.6h4v-0.9h2v-2.6h3v-0.9h3v-0.9h3v-0.8h4h3h2h3h3v-0.2h4v-0.3h3v-0.4h2v-0.1h3v-0.1h4v-0.2h4v-0.2h2v-0.1h2v-0.1h2h5v-0.2h3v-0.1h4h3h4h3h3h1.1"/>
<path class="c" stroke="#00ff00" stroke-linecap="round" d="M291.9 1747.5h3v-3.2h2v-1.6h5v-3.8h5v-2.6h4v-1.6h4v-1.8h4v-2h2v-1.1h2v-1.1h5v-2.7h5v-3.2h3v-2.7h5v-4.5h3v-3h4v-3.4h5v-4.3h2v-1.5h3v-1.8h3v-1.8h3v-2.2h2v-1.2h4v-3.5h5v-4.4h2v-1.8h3v-2.7h2v-0.9h4v-3.4h2v-1.7h2v-1.7h3v-3.1h4v-2.1h4v-2.1h3v-1.9h5v-1.8h4v-1.4h3v-1.1h3h3v-0.5h3v-0.8h3v-1.5h3v-0.9h5v-1.7h3v-1.1h4v-1.3h3v-1.3h3v-1h4v-1.3h3v-1.2h2h3v-0.8h4v-2.1h4v-1.8h4v-3h3v-1.3h3v-1.3h4v-2.6h4v-2.9h3v-1.8h5v-3.3h3v-1.7h5v-2.9h2v-1.4h3v-1.4h3v-1.4h3v-2.6h3v-1.4h5v-3.7h2v-1.5h4v-3.1h4v-3.5h4v-2.9h2v-1.8h3v-2.7h3v-2.1h4v-2.8h3v-2.1h3v-2.9h3v-2.7h2v-1.8h5v-4.6h3v-1.3h3v-1.9h4v-2.6h3v-1.9h3v-2.3h3v-2.8h5v-3.9h4v-3.8h3v-2.5h3v-2.6h3v-2.5h5v-5.1h2v-1.3h3v-2h4v-2.6h5v-2.2h3v-2.3h5v-4.2h3v-2.3h4v-3.2h4v-3.2h3v-2.1h3v-2.1h4v-2.8h4v-2.7h2v-3.1h2v-1.2h5v-2.9h3v-1.8h3v-1.8h3v-1.5h3v-1.8h3v-2.1h5v-4.8h3v-1h4v-0.8h3v-0.3h3v-0.8h3v-0.8h5v-1.6h4v-0.8h2v-0.4h5h3v-0.4h3v-1.5h3v-0.7h4v-0.9h3v-2.5h3v-1.3h3v-1.3h3v-0.3h5v-1.5h3v-0.9h3v-0.9h3v-0.6h2v-0.2h3v-0.7h2v-0.1h2v-0.3h5v-0.6h4v-0.6h3v-0.4h5v-0.7h3h3h4v-0.3h3v-0.6h3v-0.5h5v-1h3v-1.5h3v-0.7h4v-1h4v-1h3v-0.7h3v-0.8h3v-0.7h3v-0.7h5v-1.4h3v-1h2v-0.6h4v-1.1h5v-0.7h3v-0.6h2v-0.4h4v-1.1h4v-1.3h4v-1.4h4v-1.6h4v-1h4v-1h3v-0.7h4v-0.9h3v-0.2h3v-0.5h3v-0.7h3v-0.9h2v-0.6h4h5v-1.4h3v-2h2v-0.8h4v-1.5h3v-1.2h4v-1.6h3v-1.2h3v-1.2h4v-1.5h5v-1.9h4h4v-0.6h3v-0.7h5v-1.2h3v-1h2v-0.7h3v-1.1h5v-2.2h4v-2.2h2v-1.7h5v-2.8h3v-1.6h5v-2.4h3v-1.4h4v-1.8h3h2h2h4v-1h5v-2.9h3v-2.6h3v-2h3v-1.9h4v-2.9h2v-1.5h2v-1.4h4v-2.9h2v-1.7h4v-2.2h3v-1.6h4v-1.9h4v-0.9h3h3h3v-0.9h4v-2.3h4v-2.3h2v-1.2h2v-1.7h4v-0.8h4v-0.9h2v-0.4h4v-0.7h3v-1.1h3v-0.5h4v-0.7h2v-0.7h2v-0.7h3v-1.1h4v-1.5h2h3h5v-1.2h3v-0.6h4v-0.7h3v-1h3v-0.4h3v-0.5h4v-0.3h4h3v-0.1h2v-0.1h3h5v-0.2h5v-0.1h3v-0.1h4v-0.1h4v-0.1h3v-0.1h3v-0.1h3v-0.1h3v-0.2h5v-0.2h4v-0.1h5v-0.2h4v-0.1h3v-0.2h5v-0.2h4v-0.2h3v-0.2h3h3v-0.2h3v-0.2h3v-0.3h4v-0.3h3v-0.2h5v-0.6h3v-0.4h3v-0.9h4v-0.7h3v-0.7h2h3h3h5v-0.1h4v-0.1h3v-0.1h3h3v-0.1h3h3h4h3h3h3v-0.1h5h5h3h4v-0.1h3h3h3h2h4v-0.1h3h2h5h2h4v-0.1h4h3h4h4h2v-0.1h4h2h3h2h5v-0.1h3h2h4v-0.1h2h5h3h3h5h2h4h5h2h4h3h3h2.3"/>
<path class="c" stroke="#000000" stroke-linecap="butt" d="M342.9 1746.6h8v-0.2h5h3v-0.1h5v-0.1h4v-0.1h4h4h2h3v-0.1h3h5v-0.1h3h4v-0.1h5v-0.1h3h5v-0.1h2h3h5v-0.1h2v-0.1h3h3v-0.2h3h2v-0.1h4v-0.2h4v-0.2h3v-0.4h4v-0.1h5v-0.3h2h4v-0.1h3v-0.3h3v-0.3h4v-0.4h5v-1.1h3v-0.4h2h3v-0.4h4v-0.7h3v-0.6h5v-1h4v-2.3h2v-0.4h4v-1h2v-0.5h2v-0.9h4v-1.8h4v-0.2h2v-0.9h3v-1.9h3v-2h3v-1.9h4v-2.5h3v-1.7h3v-3.1h3v-1.6h3v-1.7h4v-2.2h3v-1.6h2v-1.1h4v-2h5v-0.2h3v-1.2h4v-1.5h5v-1.1h4v-0.9h4v-0.7h2v-0.3h3v-0.4h3v-0.4h4v-0.4h3v-0.6h5v-1.3h3v-2.6h3v-0.4h3v-0.3h2v-0.2h3v-0.4h3v-0.4h3v-0.3h4v-0.6h3v-0.6h3v-0.7h4v-1.5h5v-1.6h3v-0.2h4v-1.6h4v-1.6h5v-1.8h2v-0.4h5v-0.8h5v-1.2h3v-0.8h3v-0.7h4v-0.2h5v-1.3h4v-1h4v-1.1h3v-0.1h4v-0.6h4v-0.4h4v-0.3h3v-0.8h5v-1.7h3v-1h3v-0.9h5v-1.4h3v-1.9h3v-0.8h4v-1.2h5v-2.1h3v-0.9h2v-0.5h3h3v-0.1h3v-0.8h3v-1.1h3v-0.9h4v-1.2h5v-2.4h2v-0.7h3v-1.2h3v-1.1h4v-1.2h3h3h4v-0.6h3v-0.5h2v-0.3h3v-0.3h5v-0.6h4v-0.8h5v-1.3h2v-0.5h4v-1.4h3v-0.7h3v-0.6h4v-0.7h3v-0.7h4v-0.4h3v-0.3h3h3v-0.3h5v-0.4h4v-0.1h4v-0.5h2v-1.5h4v-0.9h3v-0.7h4v-1.6h3v-1.3h3h3v-1.1h3v-0.6h3v-0.6h5v-1h4v-0.6h5v-0.9h5v-0.4h5v-1.7h3v-1.1h3v-1.1h2v-0.8h3v-0.8h2v-0.6h5v-1.6h3v-0.9h3v-1.1h4v-1.4h2v-0.7h4v-1.2h3v-0.5h3h3v-0.4h4v-0.6h3v-0.3h4v-1h3v-0.2h4v-0.3h3v-0.3h3v-0.3h3h5h3v-0.4h4v-1h3v-0.6h2v-1.9h4v-0.6h4v-0.7h5v-1h5h2h4v-1h5v-1.5h3v-1h3v-2h3v-0.3h2v-0.2h3v-0.5h4v-0.6h2v-0.3h5v-0.3h3v-0.6h4v-0.6h2v-0.4h5v-0.8h4v-0.2h4v-0.6h3v-0.3h3v-0.4h5v-0.5h5v-0.2h4v-0.7h3v-0.6h3v-0.4h3v-0.8h5v-1.2h2v-0.6h4v-2.7h4v-0.7h3v-0.5h2v-0.4h2v-0.4h5v-0.9h2v-0.7h4v-0.7h4v-0.7h3h5v-0.4h5v-0.8h3v-1.1h4v-0.4h4v-0.5h4h3h2v-0.2h5v-0.4h4v-0.8h4v-0.3h3v-0.2h3v-0.1h3h3v-0.1h4v-0.2h5v-0.2h3v-0.1h5v-0.8h2v-0.5h3v-0.8h3v-0.6h3v-0.6h2v-0.4h3v-0.6h4v-0.8h2v-0.9h5v-0.9h3v-0.6h4v-0.7h4v-0.5h4h3h4v-0.4h4v-0.3h3v-0.3h4v-0.2h3h4v-0.1h2h3h3h3v-0.1h4v-0.4h3v-1.2h2v-0.3h3v-0.5h3v-0.4h2v-0.3h3v-0.3h5v-0.1h2h4v-0.1h2h5v-0.1h4v-0.1h3v-0.1h5v-0.1h4v-0.1h4v-0.1h4v-0.1h4v-0.3h4v-0.1h5v-0.2h5v-0.2h3v-0.1h4h2v-0.1h3h4v-0.1h4v-0.3h3v-0.1h3v-0.5h3v-0.5h4v-0.7h4v-0.7h3v-0.5h2v-0.1h5v-0.2h4v-0.2h3v-0.1h4v-0.2h4h3v-0.1h3v-0.1h5h4h3h2h3v-0.1h2h2h4v-0.1h3h3h5v-0.2h4v-0.5h4v-0.3h2v-0.2h3h3h3v-0.2h3v-0.3h3v-0.2h5v-0.3h3v-0.2h3v-0.2h3v-0.1h2v-0.1h5v-0.3h3v-0.1h5v-0.4h4v-0.2h3v-0.3h2h4v-0.1h4v-0.1h2h3v-0.1h2h3h3v-0.1h3v-0.1h3h3v-0.1h3v-0.1h2h3v-0.1h3v-0.1h4v-0.1h4h3v-0.8h2v-0.5h5v-1.5h3v-0.4h4v-1.3h2v-0.5h2v-0.2h4v-0.4h5v-0.3h2h4v-0.1h3h4v-0.1h2v-0.1h4v-0.5h5v-0.5h3v-0.3h4v-0.4h2h3v-0.1h5v-0.3h3v-0.2h3h3h3h4v-0.1h4h3h3h5h4v-0.1h4h4v-0.1h2h3h3h4h2h3h3h5h2h3h3h2h5h3h4h3h4h3v-0.2h5v-0.5h4h3h3v-0.2h4v-0.4h3v-0.6h4v-0.2h5v-0.3h3v-0.2h3v-0.2h2v-0.1h2h4h3v-0.2h5v-0.2h3v-0.6h3v-0.3h5v-0.4h3h3v-0.3h4v-0.3h4v-0.3h5v-0.9h3v-2.2h3v-0.6h2v-0.5h4v-0.9h4v-0.8h3v-0.7h3v-0.6h4v-0.3h3v-0.6h4v-0.9h5v-0.9h3v-0.3h5v-0.4h3v-0.3h5v-0.6h2h3v-0.1h5v-0.4h3v-0.2h5v-0.4h5v-0.1h3v-0.2h3v-0.3h2v-0.1h3v-0.2h4v-0.5h4v-0.2h2v-0.2h4v-0.2h3v-0.2h3v-0.6h4v-0.5h3v-0.4h5v-0.6h3v-0.4h4h2v-0.2h4v-0.2h3v-0.2h4v-0.3h4v-0.2h4v-0.3h3v-0.2h5v-0.4h2v-0.2h3v-0.2h5v-0.4h3h4v-0.2h3v-0.2h3v-0.1h3v-0.1h3v-0.1h3v-0.4h2h5v-0.3h2v-0.1h4v-0.4h3v-0.3h4v-0.3h3v-0.2h3v-0.3h3v-0.3h2v-0.2h3v-0.5h3v-0.6h4v-0.6h3v-0.4h4v-0.6h3v-0.6h3v-0.5h4v-0.5h3h4h4v-0.6h5v-0.7h3v-0.9h3v-0.3h5v-0.5h3v-0.3h3v-0.3h3v-0.2h4v-0.4h3v-0.3h3v-0.2h4v-0.4h3h4v-0.2h2v-0.2h4v-0.5h4v-0.3h3h3h2h4h2h5h4v-0.6h3v-0.3h4v-0.3h3h3h2h3v-0.3h3v-0.1h4v-0.3h4v-0.2h3v-0.1h4v-0.2h4v-0.2h4v-0.2h3v-0.1h3h3v-0.2h3v-0.1h2h3v-0.2h2v-0.1h5v-0.3h3v-0.5h5v-0.3h4v-0.2h2h5h0.2v-0.2"/>
<circle cx="2264.1" cy="1496.7" r="6.5" fill="#000000" shape-rendering="crispEdges"/>
</g>
<rect x="324" y="1746" width="7" height="2" fill="#0000ff"/>
</g>
<g style="fill:#000000"><text transform="translate(1108.4 2149.6) scale(0.91 1)" style="font-size:86px;font-weight:normal">(</text><text x="1134.5" y="2150" style="font-size:90px;font-weight:bold">b</text><text transform="translate(1186.5 2149.6) scale(0.91 1)" style="font-size:86px;font-weight:normal">)</text></g>
</svg>
</body></html>
